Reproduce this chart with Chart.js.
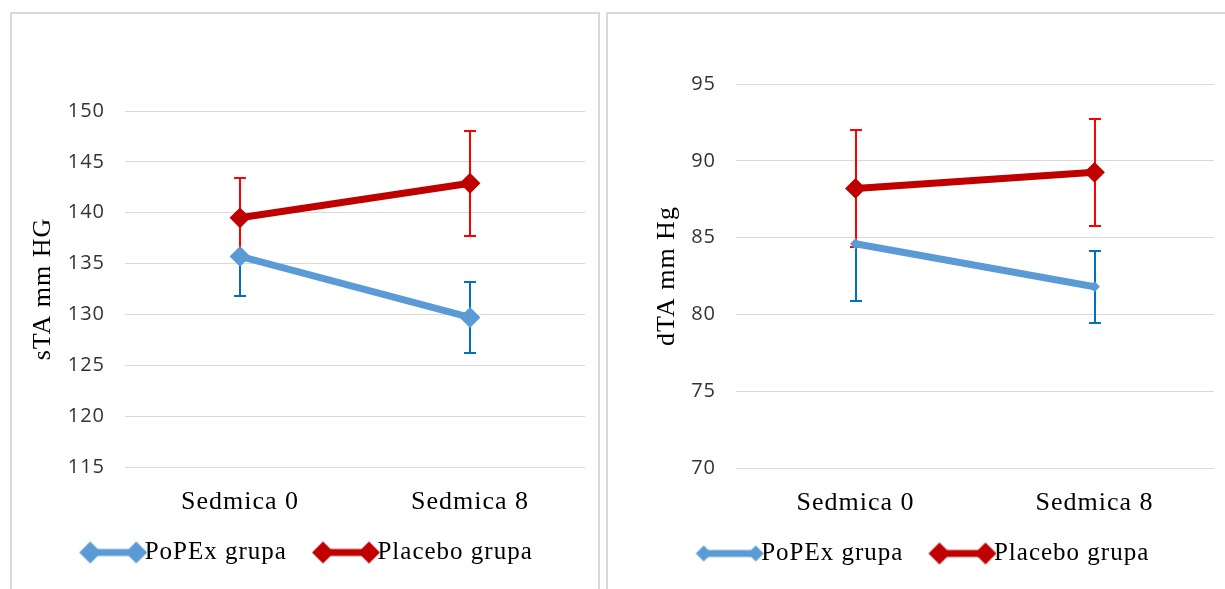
<!DOCTYPE html>
<html><head><meta charset="utf-8">
<script src="https://cdn.jsdelivr.net/npm/chart.js@4"></script>
<style>
html,body{margin:0;padding:0;background:#fff;width:1225px;height:589px;overflow:hidden;}
.frame{position:absolute;border:2px solid #d9d9d9;box-sizing:border-box;}
#f1{left:10px;top:12px;width:590px;height:600px;}
#f2{left:606px;top:12px;width:640px;height:600px;}
canvas{position:absolute;}
#c1{left:12px;top:14px;}
#c2{left:608px;top:14px;}
</style></head>
<body>
<div class="frame" id="f1"></div><div class="frame" id="f2"></div>
<canvas id="c1" width="586" height="575"></canvas>
<canvas id="c2" width="617" height="575"></canvas>
<script>
const categories = ['Sedmica 0', 'Sedmica 8'];
const seriesNames = ['PoPEx grupa', 'Placebo grupa'];
const sysPopex = [135.7, 129.7];
const sysPopexErr = [3.85, 3.5];
const sysPlacebo = [139.5, 142.9];
const sysPlaceboErr = [3.95, 5.15];
const diaPopex = [84.6, 81.8];
const diaPopexErr = [3.75, 2.35];
const diaPlacebo = [88.2, 89.25];
const diaPlaceboErr = [3.8, 3.5];
const sysTicks = [115, 120, 125, 130, 135, 140, 145, 150];
const diaTicks = [70, 75, 80, 85, 90, 95];
const sysTitle = 'sTA mm HG';
const diaTitle = 'dTA mm Hg';

const BLUE = '#5B9BD5', RED = '#C00000', BLUE_ERR = '#0070C0', RED_ERR = '#FF0000';
const SERIF = "'Liberation Serif', 'Times New Roman', serif";
const SANS = "'Open Sans', 'Liberation Sans', sans-serif";

const spacingPlugin = {
  id: 'letterSpacing',
  beforeUpdate(chart) { chart.ctx.letterSpacing = '1px'; },
  beforeDraw(chart) { chart.ctx.letterSpacing = '1px'; }
};

const errorBarPlugin = {
  id: 'errorBars',
  beforeDatasetsDraw(chart) {
    const ctx = chart.ctx, xs = chart.scales.x, ys = chart.scales.y;
    chart.data.datasets.forEach(ds => {
      if (!ds.errors) return;
      ctx.save();
      ctx.strokeStyle = ds.errorColor;
      ctx.lineWidth = 2;
      ds.data.forEach((v, j) => {
        const px = Math.round(xs.getPixelForValue(j));
        const top = Math.round(ys.getPixelForValue(v + ds.errors[j]));
        const bot = Math.round(ys.getPixelForValue(v - ds.errors[j]));
        ctx.beginPath();
        ctx.moveTo(px, top); ctx.lineTo(px, bot);
        ctx.moveTo(px - 6, top); ctx.lineTo(px + 6, top);
        ctx.moveTo(px - 6, bot); ctx.lineTo(px + 6, bot);
        ctx.stroke();
      });
      ctx.restore();
    });
  }
};

function legendSprite(color, half, lw, I, M) {
  const c = document.createElement('canvas');
  c.width = I; c.height = 2 * half + 4;
  const g = c.getContext('2d');
  const cy = c.height / 2, x0 = I - M;
  const l = x0 + half, r = I - half;
  g.strokeStyle = color; g.lineWidth = lw;
  g.beginPath(); g.moveTo(l, cy); g.lineTo(r, cy); g.stroke();
  g.fillStyle = color;
  [l, r].forEach(cx => {
    g.beginPath();
    g.moveTo(cx - half, cy); g.lineTo(cx, cy - half);
    g.lineTo(cx + half, cy); g.lineTo(cx, cy + half);
    g.closePath(); g.fill();
  });
  return c;
}

function makeChart(id, cfg) {
  const ticks = cfg.ticks;
  const canvas = document.getElementById(id);
  canvas.getContext('2d').letterSpacing = '1px';
  return new Chart(canvas, {
    type: 'line',
    data: {
      labels: categories,
      datasets: [
        { label: seriesNames[0], data: cfg.popex, errors: cfg.popexErr, errorColor: BLUE_ERR,
          borderColor: BLUE, backgroundColor: BLUE, borderWidth: 7, borderCapStyle: 'round',
          pointStyle: 'rectRot', pointRadius: cfg.bluePointR, pointBorderWidth: 2,
          pointBackgroundColor: BLUE, pointBorderColor: BLUE,
          sprite: legendSprite(BLUE, cfg.blueLegendHalf, 7, 98, 68) },
        { label: seriesNames[1], data: cfg.placebo, errors: cfg.placeboErr, errorColor: RED_ERR,
          borderColor: RED, backgroundColor: RED, borderWidth: 7, borderCapStyle: 'round',
          pointStyle: 'rectRot', pointRadius: 9, pointBorderWidth: 2,
          pointBackgroundColor: RED, pointBorderColor: RED,
          sprite: legendSprite(RED, 11, 7, 98, 68) }
      ]
    },
    options: {
      responsive: false, animation: false, events: [],
      layout: { padding: cfg.padding },
      scales: {
        x: {
          offset: true,
          grid: { display: false, drawTicks: false },
          border: { display: false },
          ticks: { font: { family: SERIF, size: 26 }, color: '#000', padding: 20, maxRotation: 0 },
          afterFit: s => { s.height = 63; }
        },
        y: {
          min: ticks[0], max: ticks[ticks.length - 1],
          grid: { color: '#d9d9d9', lineWidth: 1, drawTicks: false },
          border: { display: false },
          ticks: { stepSize: ticks[1] - ticks[0], font: { family: SANS, size: 20 }, color: '#333', padding: 20 },
          title: { display: true, text: cfg.title, font: { family: SERIF, size: 26 }, color: '#000',
                   padding: { top: cfg.titlePad, bottom: 0 } },
          afterFit: s => { s.width = cfg.yWidth; }
        }
      },
      plugins: {
        tooltip: { enabled: false },
        legend: {
          position: 'bottom',
          labels: {
            usePointStyle: true, pointStyleWidth: 68, padding: 10,
            font: { family: SERIF, size: 25 }, color: '#000',
            generateLabels: chart => chart.data.datasets.map((ds, i) => ({
              text: ds.label, pointStyle: ds.sprite, fillStyle: ds.borderColor,
              strokeStyle: ds.borderColor, lineWidth: 0, hidden: false, datasetIndex: i
            }))
          }
        }
      }
    },
    plugins: [spacingPlugin, errorBarPlugin]
  });
}

makeChart('c1', {
  popex: sysPopex, popexErr: sysPopexErr, placebo: sysPlacebo, placeboErr: sysPlaceboErr,
  ticks: sysTicks, title: sysTitle, titlePad: 16, yWidth: 113, bluePointR: 9, blueLegendHalf: 11,
  padding: { top: 97, right: 13, left: 0, bottom: 14 }
});
makeChart('c2', {
  popex: diaPopex, popexErr: diaPopexErr, placebo: diaPlacebo, placeboErr: diaPlaceboErr,
  ticks: diaTicks, title: diaTitle, titlePad: 44, yWidth: 128, bluePointR: 4, blueLegendHalf: 8,
  padding: { top: 70, right: 3, left: 0, bottom: 13 }
});
</script>
</body></html>
